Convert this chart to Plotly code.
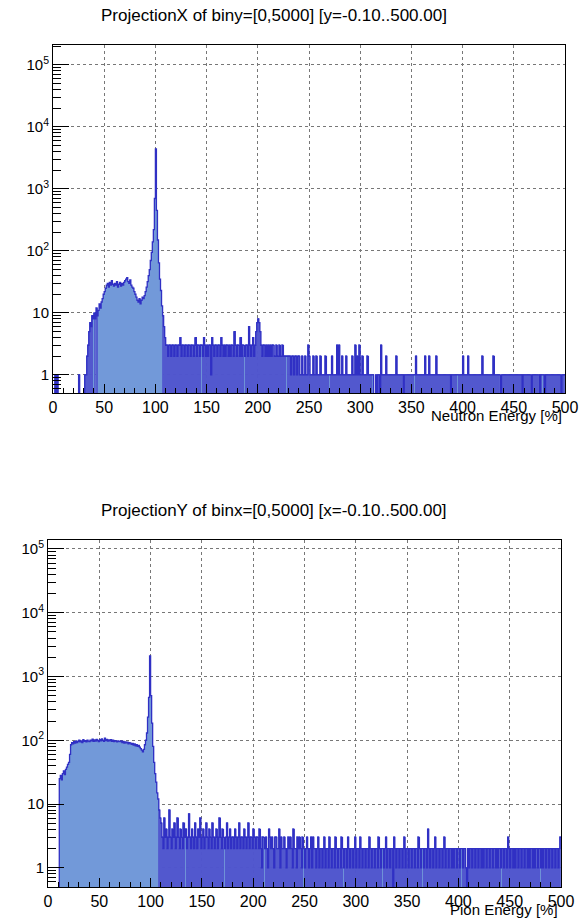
import numpy as np
import plotly.graph_objects as go

# ---------------- data (1-unit bins from 0 to 500) ----------------
bin_width = 1.0
bin_low = list(range(0, 500))

neutron_counts = [
    0, 0, 1, 0, 1, 0, 0, 0, 0, 0,
    0, 0, 0, 0, 0, 0, 0, 0, 0, 0,
    0, 0, 0, 0, 0, 1, 0, 0, 0, 0,
    0, 1, 1, 2, 3, 5, 7, 6, 9, 8,
    10, 8, 12, 9, 11, 14, 12, 15, 17, 20,
    22, 25, 28, 30, 26, 31, 28, 33, 29, 27,
    30, 28, 32, 26, 29, 31, 27, 30, 28, 31,
    33, 35, 37, 32, 30, 34, 28, 26, 25, 22,
    20, 18, 16, 15, 17, 14, 16, 18, 17, 19,
    22, 26, 32, 40, 50, 70, 95, 140, 220, 700,
    4400, 450, 150, 64, 35, 23, 13, 9, 6, 4,
    3, 3, 2, 3, 3, 2, 3, 3, 2, 3,
    3, 2, 3, 3, 4, 2, 3, 3, 2, 3,
    3, 2, 3, 3, 2, 3, 3, 2, 3, 4,
    2, 3, 3, 2, 3, 3, 2, 4, 3, 2,
    3, 2, 3, 3, 1, 4, 3, 2, 3, 3,
    2, 3, 3, 2, 4, 3, 2, 3, 2, 3,
    3, 2, 3, 2, 3, 3, 2, 5, 3, 2,
    3, 3, 2, 4, 2, 3, 3, 2, 3, 3,
    2, 6, 3, 2, 3, 4, 2, 3, 5, 7,
    8, 7, 5, 3, 2, 3, 3, 2, 3, 2,
    3, 2, 3, 2, 3, 3, 2, 2, 3, 2,
    2, 3, 2, 2, 3, 2, 2, 2, 2, 2,
    2, 2, 1, 2, 2, 1, 2, 2, 1, 2,
    2, 1, 1, 2, 1, 1, 2, 1, 1, 3,
    2, 1, 1, 1, 2, 1, 1, 2, 1, 1,
    1, 2, 1, 1, 1, 1, 2, 1, 1, 1,
    1, 1, 2, 1, 1, 1, 1, 3, 1, 3,
    1, 1, 2, 1, 1, 1, 2, 1, 1, 1,
    1, 1, 2, 1, 1, 3, 1, 2, 1, 3,
    1, 1, 2, 1, 1, 1, 1, 2, 1, 1,
    1, 1, 1, 0, 0, 1, 0, 1, 1, 0,
    3, 1, 1, 1, 1, 2, 1, 1, 1, 1,
    1, 1, 1, 1, 1, 2, 1, 1, 1, 1,
    1, 1, 0, 1, 1, 1, 1, 1, 1, 1,
    1, 1, 1, 1, 2, 1, 1, 1, 1, 1,
    1, 1, 1, 2, 1, 1, 1, 2, 1, 1,
    1, 1, 1, 1, 2, 1, 1, 1, 1, 1,
    1, 1, 1, 1, 1, 1, 1, 1, 0, 1,
    1, 1, 1, 1, 1, 1, 1, 1, 1, 1,
    2, 1, 1, 1, 1, 2, 1, 1, 1, 1,
    1, 1, 1, 1, 1, 1, 1, 1, 1, 2,
    1, 1, 1, 1, 1, 1, 1, 1, 1, 1,
    2, 1, 1, 1, 1, 1, 1, 0, 1, 1,
    1, 1, 1, 1, 1, 1, 1, 1, 1, 1,
    1, 1, 1, 1, 1, 1, 1, 1, 0, 1,
    1, 1, 1, 1, 1, 1, 1, 0, 1, 1,
    1, 1, 1, 1, 1, 0, 1, 1, 1, 1,
    0, 1, 1, 1, 1, 1, 1, 1, 1, 1,
    1, 1, 1, 1, 1, 1, 0, 1, 1, 1,
]

pion_counts = [
    0, 0, 0, 0, 0, 0, 0, 0, 0, 0,
    0, 25, 28, 24, 30, 33, 29, 35, 38, 42,
    45, 60, 85, 92, 88, 95, 90, 98, 92, 96,
    100, 94, 98, 92, 102, 96, 99, 94, 100, 97,
    95, 100, 98, 104, 96, 101, 97, 103, 99, 95,
    102, 98, 105, 100, 96, 108, 99, 103, 97, 101,
    98, 102, 96, 100, 95, 99, 97, 94, 98, 96,
    95, 98, 92, 96, 90, 94, 91, 93, 88, 92,
    90, 86, 89, 84, 88, 82, 85, 80, 83, 78,
    74, 70, 66, 72, 85, 100, 130, 230, 470, 2100,
    500, 185, 80, 45, 30, 22, 15, 12, 8, 6,
    5, 3, 2, 6, 3, 4, 2, 3, 8, 3,
    2, 4, 3, 5, 2, 3, 6, 3, 2, 4,
    3, 2, 5, 3, 4, 2, 3, 7, 3, 2,
    4, 3, 2, 5, 3, 2, 4, 3, 6, 2,
    3, 4, 2, 3, 5, 3, 2, 4, 3, 2,
    5, 3, 2, 3, 4, 2, 3, 6, 3, 2,
    4, 3, 2, 3, 5, 2, 3, 4, 2, 3,
    3, 2, 4, 3, 2, 3, 5, 2, 3, 3,
    2, 4, 3, 2, 3, 5, 2, 3, 3, 2,
    4, 3, 2, 3, 3, 2, 4, 2, 1, 3,
    3, 2, 3, 2, 1, 4, 3, 2, 3, 2,
    1, 3, 3, 2, 2, 4, 1, 3, 2, 2,
    3, 2, 1, 2, 3, 2, 3, 2, 1, 4,
    2, 2, 1, 3, 2, 3, 2, 1, 3, 2,
    1, 2, 3, 2, 1, 2, 3, 1, 3, 2,
    2, 1, 2, 3, 1, 2, 2, 1, 2, 3,
    1, 2, 2, 1, 3, 2, 1, 2, 2, 1,
    3, 2, 1, 2, 2, 1, 3, 2, 1, 2,
    2, 1, 3, 2, 1, 2, 2, 1, 2, 3,
    1, 2, 2, 1, 3, 2, 1, 2, 2, 1,
    2, 2, 1, 3, 2, 1, 2, 2, 1, 2,
    2, 1, 3, 2, 1, 2, 2, 1, 2, 3,
    1, 2, 2, 1, 2, 2, 0, 3, 2, 1,
    2, 2, 1, 2, 2, 1, 2, 3, 1, 2,
    2, 1, 2, 2, 1, 2, 2, 1, 2, 2,
    1, 3, 2, 1, 2, 2, 1, 2, 2, 1,
    4, 2, 1, 2, 2, 1, 2, 3, 1, 2,
    2, 1, 2, 2, 1, 2, 3, 1, 2, 2,
    1, 2, 2, 1, 2, 1, 2, 2, 1, 2,
    2, 1, 2, 2, 1, 2, 2, 1, 0, 2,
    1, 2, 2, 1, 2, 2, 1, 2, 2, 1,
    2, 2, 1, 2, 1, 2, 2, 1, 2, 2,
    1, 2, 2, 1, 2, 2, 1, 2, 1, 2,
    2, 1, 2, 2, 1, 2, 2, 1, 3, 2,
    1, 2, 2, 1, 2, 1, 2, 2, 1, 2,
    2, 1, 2, 2, 1, 2, 2, 1, 2, 1,
    2, 2, 1, 2, 1, 2, 2, 1, 2, 2,
    1, 2, 1, 2, 2, 1, 2, 2, 1, 2,
    2, 1, 2, 2, 1, 2, 2, 1, 2, 3,
]

x_tick_vals = [0, 50, 100, 150, 200, 250, 300, 350, 400, 450, 500]
x_tick_text = ["0", "50", "100", "150", "200", "250", "300", "350", "400", "450", "500"]
y_tick_vals = [1, 10, 100, 1000, 10000, 100000]
y_tick_text = ["1", "10", "10<sup>2</sup>", "10<sup>3</sup>", "10<sup>4</sup>", "10<sup>5</sup>"]

titles = ["ProjectionX of biny=[0,5000] [y=-0.10..500.00]",
          "ProjectionY of binx=[0,5000] [x=-0.10..500.00]"]
x_titles = ["Neutron Energy [%]", "Pion Energy [%]"]

# ---------------- style ----------------
W, H = 587, 918
FILL = "#7299d9"
LINE = "#3030c4"
OUTLINE = "#4a4acb"
FONT = "Liberation Sans, Arial, Helvetica, sans-serif"
SPARSE_LEVEL = 10  # low-count bins are drawn with dense outlines (ROOT-like look)

def pxx(p):
    return p / W

def pxy(p):
    return 1 - p / H

# plot frames in pixels: (left, right, top, bottom)
frames = [(53, 565, 45, 393), (48, 561, 540, 887)]
y_ranges = [[np.log10(0.5) + 0.01, 5.32], [np.log10(0.5), 5.14]]

minor_y = [m * 10.0 ** e for e in range(-1, 6) for m in range(2, 10)]

fig = go.Figure()
centers = [b + bin_width / 2 for b in bin_low]
edges = bin_low + [bin_low[-1] + bin_width]

for i, counts in enumerate([neutron_counts, pion_counts]):
    xa = "x" if i == 0 else "x2"
    ya = "y" if i == 0 else "y2"
    bar_y = [c if c > 0 else None for c in counts]
    outline_w = [0.8 if 0 < c < SPARSE_LEVEL else 0 for c in counts]
    fig.add_trace(go.Bar(x=centers, y=bar_y, width=bin_width,
                         marker=dict(color=FILL, line=dict(width=outline_w, color=OUTLINE)),
                         xaxis=xa, yaxis=ya, showlegend=False, hoverinfo="skip"))
    step_y = [c if c > 0 else 1e-3 for c in counts]
    step_y = step_y + [step_y[-1]]
    fig.add_trace(go.Scatter(x=edges, y=step_y, mode="lines",
                             line=dict(color=LINE, width=1.3, shape="hv"),
                             xaxis=xa, yaxis=ya, showlegend=False, hoverinfo="skip"))

axis_common = dict(showline=True, linecolor="black", linewidth=1, mirror=True,
                   ticks="inside", tickcolor="black",
                   showgrid=True, gridcolor="#777777", griddash="dot", gridwidth=1,
                   zeroline=False, automargin=False,
                   tickfont=dict(family=FONT, size=16, color="black"))

layout = dict(width=W, height=H, margin=dict(l=0, r=0, t=0, b=0),
              paper_bgcolor="white", plot_bgcolor="white", bargap=0,
              font=dict(family=FONT, color="black"), annotations=[])

for i, (l, r, t, b) in enumerate(frames):
    sfx = "" if i == 0 else "2"
    layout["xaxis" + sfx] = dict(axis_common, domain=[pxx(l), pxx(r)], range=[0, 500],
                                 anchor="y" + sfx, tickmode="array",
                                 tickvals=x_tick_vals, ticktext=x_tick_text, ticklen=9,
                                 minor=dict(dtick=10, tick0=0, ticks="inside", ticklen=5,
                                            tickcolor="black", showgrid=False))
    layout["yaxis" + sfx] = dict(axis_common, type="log", domain=[pxy(b), pxy(t)],
                                 range=y_ranges[i], anchor="x" + sfx, tickmode="array",
                                 tickvals=y_tick_vals, ticktext=y_tick_text, ticklen=16,
                                 tickfont=dict(family=FONT, size=15, color="black"),
                                 minor=dict(tickmode="array", tickvals=minor_y, ticks="inside",
                                            ticklen=8, tickcolor="black", showgrid=False))
    layout["annotations"].append(dict(text=titles[i], x=pxx(274), y=pxy(t - 30),
                                      xref="paper", yref="paper", showarrow=False,
                                      xanchor="center", yanchor="middle",
                                      font=dict(family=FONT, size=17, color="black")))
    layout["annotations"].append(dict(text=x_titles[i], x=pxx(r - 1), y=pxy(b + 22),
                                      xref="paper", yref="paper", showarrow=False,
                                      xanchor="right", yanchor="middle",
                                      font=dict(family=FONT, size=15, color="black")))

fig.update_layout(**layout)
fig.write_html("out.html", config={"displayModeBar": False},
               post_script="document.body.style.margin='0';document.body.style.padding='0';")
